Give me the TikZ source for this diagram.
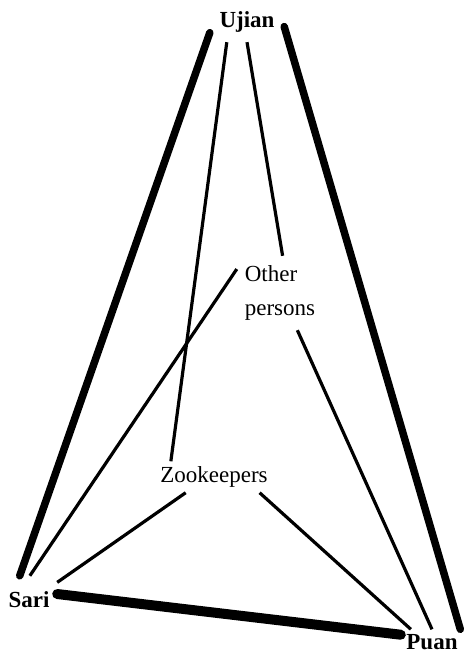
\documentclass[tikz,border=0pt]{standalone}
\usepackage{fontspec}
\setmainfont{Liberation Serif}

\begin{document}
\begin{tikzpicture}[x=1pt, y=-1pt, font=\fontsize{23}{34}\selectfont,
    person/.style={inner sep=0pt, font=\fontsize{23}{34}\selectfont\bfseries},
    group/.style={inner sep=0pt, align=left},
    tie/.style={line width=7.5pt, line cap=round},
    link/.style={line width=3.2pt}]
    \useasboundingbox (0,0) rectangle (467,659);

    \node[person, minimum width=74pt, minimum height=40pt] (ujian) at (247,22) {Ujian};
    \node[person, minimum width=56pt, minimum height=48pt] (sari) at (29,600) {Sari};
    \node[person, minimum width=62pt, minimum height=26pt] (puan) at (432,642.5) {Puan};
    \node[group, minimum width=86pt, minimum height=74pt] (other) at (280,293) {Other\\persons};
    \node[group, minimum width=88pt, minimum height=31pt] (zoo) at (214,477) {Zookeepers};

    \draw[tie] (ujian.196) -- (sari.111);
    \draw[tie] (ujian.-7) -- (puan.25);
    \draw[tie, line width=10pt] (sari.12) -- (puan.166);

    \draw[link] (ujian.225) -- (zoo.160);
    \draw[link] (ujian.270) -- (other.86);
    \draw[link] (other.151) -- (sari.88);
    \draw[link] (other.-65) -- (puan.90);
    \draw[link] (zoo.209) -- (sari.32);
    \draw[link] (zoo.-19) -- (puan.148);
\end{tikzpicture}
\end{document}
